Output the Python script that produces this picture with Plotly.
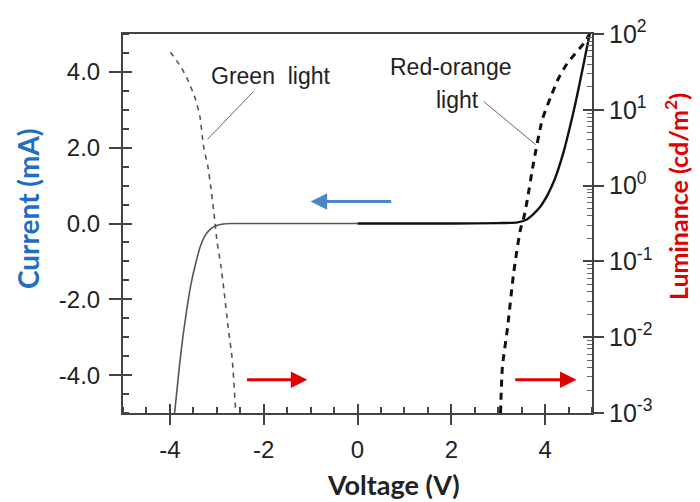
import plotly.graph_objects as go

# Current (mA) vs voltage (V)
cur_neg_v = [-3.9, -3.85, -3.8, -3.73, -3.65, -3.56, -3.45, -3.35, -3.24, -3.13, -3.02, -2.9, -2.7, -2.0, -1.0, 0.0]
cur_neg_i = [-5.0, -4.4, -3.8, -3.06, -2.35, -1.66, -1.05, -0.6, -0.3, -0.14, -0.06, -0.02, 0.0, 0.0, 0.0, 0.0]
cur_pos_v = [0.0, 1.0, 2.0, 3.0, 3.41, 3.6, 3.75, 3.9, 4.05, 4.2, 4.39, 4.52, 4.65, 4.82, 4.95]
cur_pos_i = [0.0, 0.0, 0.0, 0.01, 0.03, 0.1, 0.25, 0.45, 0.75, 1.15, 1.87, 2.5, 3.19, 4.2, 5.0]

# Luminance (cd/m2), log10 values
red_v = [3.05, 3.09, 3.2, 3.33, 3.47, 3.55, 3.62, 3.75, 3.94, 4.12, 4.29, 4.47, 4.83, 4.95]
red_log = [-3.0, -2.39, -1.87, -1.15, -0.59, -0.41, -0.19, 0.29, 0.87, 1.17, 1.42, 1.61, 1.88, 2.0]
green_v = [-3.99, -3.77, -3.6, -3.45, -3.36, -3.28, -3.19, -3.13, -3.06, -2.99, -2.91, -2.84, -2.76, -2.67, -2.6]
green_log = [1.76, 1.57, 1.37, 1.13, 0.91, 0.51, 0.25, -0.01, -0.37, -0.76, -1.07, -1.42, -1.86, -2.3, -2.96]
red_l = [10 ** v for v in red_log]
green_l = [10 ** v for v in green_log]

x_ticks = [-4, -2, 0, 2, 4]
x_ticklabels = ["-4", "-2", "0", "2", "4"]
y_ticks = [4.0, 2.0, 0.0, -2.0, -4.0]
y_ticklabels = ["4.0", "2.0", "0.0", "-2.0", "-4.0"]
lum_ticks = [1e-3, 1e-2, 1e-1, 1, 10, 100]
lum_ticklabels = ["10<sup>-3</sup>", "10<sup>-2</sup>", "10<sup>-1</sup>", "10<sup>0</sup>",
                  "10<sup>1</sup>", "10<sup>2</sup>"]
lum_minor = [m * 10 ** k for k in range(-3, 2) for m in range(2, 10)]

AX = "#444444"
TICKFONT = dict(family="Liberation Sans, Arial", size=24, color="#222222")
OFF = 8  # page body margin
W, H = 692, 494
L, T = 123 - OFF, 34 - OFF
R = W - (592 - OFF)
B = H - (413 - OFF)

fig = go.Figure()
fig.add_trace(go.Scatter(x=cur_neg_v, y=cur_neg_i, mode="lines",
                         line=dict(color="#555555", width=1.6, shape="spline", smoothing=0.6),
                         showlegend=False))
fig.add_trace(go.Scatter(x=cur_pos_v, y=cur_pos_i, mode="lines",
                         line=dict(color="#111111", width=2.4, shape="spline", smoothing=0.6),
                         showlegend=False))
fig.add_trace(go.Scatter(x=green_v, y=green_l, yaxis="y2", mode="lines",
                         line=dict(color="#555555", width=1.6, dash="5px,5px", shape="spline",
                                   smoothing=0.6), showlegend=False))
fig.add_trace(go.Scatter(x=red_v, y=red_l, yaxis="y2", mode="lines",
                         line=dict(color="#111111", width=3, dash="7px,6px", shape="spline",
                                   smoothing=0.6), showlegend=False))

fig.update_layout(
    width=W, height=H,
    margin=dict(l=L, r=R, t=T, b=B, autoexpand=False),
    paper_bgcolor="white", plot_bgcolor="white",
    xaxis=dict(range=[-5, 5], tickvals=x_ticks, ticktext=x_ticklabels, ticks="outside",
               ticklen=10, tickwidth=1.5, tickcolor=AX, showline=True, linecolor=AX,
               linewidth=2, mirror=True, showgrid=False, zeroline=False, tickfont=TICKFONT,
               automargin=False, ticklabelstandoff=4,
               minor=dict(dtick=0.5, ticks="inside", ticklen=6, tickcolor=AX, showgrid=False)),
    xaxis3=dict(range=[-5, 5], overlaying="x", tickvals=x_ticks, ticks="inside", ticklen=9,
                tickwidth=1.5, tickcolor=AX, showticklabels=False, showgrid=False,
                zeroline=False, matches="x", automargin=False),
    yaxis=dict(range=[-5, 5], tickvals=y_ticks, ticktext=y_ticklabels, ticks="outside",
               ticklen=12, tickwidth=1.5, tickcolor=AX, showline=True, linecolor=AX, linewidth=2,
               showgrid=False, zeroline=False, tickfont=TICKFONT, automargin=False,
               ticklabelstandoff=4,
               minor=dict(dtick=0.5, ticks="inside", ticklen=6, tickcolor=AX, showgrid=False)),
    yaxis3=dict(range=[-5, 5], overlaying="y", tickvals=y_ticks, ticks="inside", ticklen=9,
                tickwidth=1.5, tickcolor=AX, showticklabels=False, showgrid=False,
                zeroline=False, automargin=False),
    yaxis2=dict(type="log", range=[-3, 2], overlaying="y", side="right",
                tickvals=lum_ticks, ticktext=lum_ticklabels,
                ticks="outside", ticklen=10, tickwidth=1.5, tickcolor=AX,
                showline=True, linecolor=AX, linewidth=2, showgrid=False, zeroline=False,
                tickfont=dict(family="Liberation Sans, Arial", size=25, color="#222222"),
                automargin=False,
                minor=dict(tickvals=lum_minor, ticks="inside", ticklen=5, tickcolor="#666666",
                           tickwidth=1, showgrid=False)),
    yaxis4=dict(type="log", range=[-3, 2], overlaying="y", side="right",
                tickvals=lum_ticks, ticks="inside", ticklen=9,
                tickwidth=1.5, tickcolor=AX, showticklabels=False, showgrid=False,
                zeroline=False, showline=False, automargin=False),
)
# invisible helper traces so overlay tick axes are drawn
fig.add_trace(go.Scatter(x=[0], y=[0], xaxis="x3", yaxis="y3", mode="markers",
                         marker=dict(opacity=0), showlegend=False, hoverinfo="skip"))
fig.add_trace(go.Scatter(x=[0], y=[1], yaxis="y4", mode="markers",
                         marker=dict(opacity=0), showlegend=False, hoverinfo="skip"))

# Labels
LBL = dict(family="Liberation Sans, Arial", size=23, color="#222222")
fig.add_annotation(x=-1.85, y=3.88, text="Green  light", showarrow=False, font=LBL,
                   xanchor="center", yanchor="middle")
fig.add_annotation(x=1.98, y=4.12, text="Red-orange", showarrow=False, font=LBL,
                   xanchor="center", yanchor="middle")
fig.add_annotation(x=2.13, y=3.27, text="light", showarrow=False, font=LBL,
                   xanchor="center", yanchor="middle")
fig.add_shape(type="line", x0=-2.22, y0=3.48, x1=-3.2, y1=2.22, line=dict(color="#666666", width=1))
fig.add_shape(type="line", x0=2.69, y0=3.22, x1=3.8, y1=2.08, line=dict(color="#666666", width=1))

# Arrows
fig.add_annotation(x=-1.0, y=0.58, ax=0.75, ay=0.58, axref="x", ayref="y", xref="x", yref="y",
                   text="", showarrow=True, arrowhead=2, arrowsize=1.1, arrowwidth=3,
                   arrowcolor="#4A86C8")
fig.add_annotation(x=-1.07, y=-4.12, ax=-2.39, ay=-4.12, axref="x", ayref="y", xref="x", yref="y",
                   text="", showarrow=True, arrowhead=2, arrowsize=1.1, arrowwidth=3,
                   arrowcolor="#E00000")
fig.add_annotation(x=4.67, y=-4.12, ax=3.33, ay=-4.12, axref="x", ayref="y", xref="x", yref="y",
                   text="", showarrow=True, arrowhead=2, arrowsize=1.1, arrowwidth=3,
                   arrowcolor="#E00000")

# Axis titles (positioned in screen pixels, converted to plot-area paper coordinates)
TF = "Lato, Open Sans, sans-serif"
def px(xp, yp):
    xp -= OFF
    yp -= OFF
    return (xp - L) / (W - L - R), (H - yp - B) / (H - T - B)

x0, y0 = px(28, 209)
fig.add_annotation(x=x0, y=y0, xref="paper", yref="paper", text="<b>Current (mA)</b>",
                   showarrow=False, textangle=-90, xanchor="center", yanchor="middle",
                   font=dict(family=TF, size=28, color="#1F6EBF"))
x0, y0 = px(677, 197)
fig.add_annotation(x=x0, y=y0, xref="paper", yref="paper",
                   text="<b>Luminance (cd/m<sup>2</sup>)</b>", showarrow=False, textangle=-90,
                   xanchor="center", yanchor="middle",
                   font=dict(family=TF, size=25, color="#E00000"))
x0, y0 = px(393, 484)
fig.add_annotation(x=x0, y=y0, xref="paper", yref="paper", text="<b>Voltage (V)</b>",
                   showarrow=False, xanchor="center", yanchor="middle",
                   font=dict(family=TF, size=27, color="#222222"))

fig.write_html("out.html")
